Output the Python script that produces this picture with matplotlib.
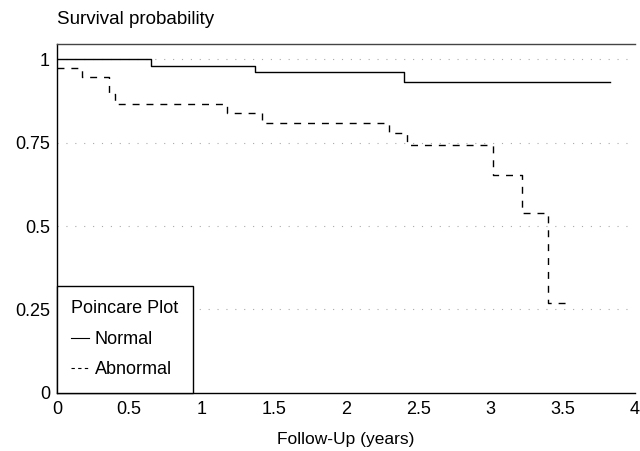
import matplotlib.pyplot as plt
from matplotlib.lines import Line2D

plt.rcParams['font.family'] = ['Liberation Sans', 'DejaVu Sans']

# Kaplan-Meier step data
normal_t = [0, 0.65, 1.37, 2.40, 3.83]
normal_s = [1.0, 0.979, 0.962, 0.931, 0.931]

abnormal_t = [0, 0.17, 0.36, 0.40, 1.18, 1.42, 2.30, 2.42, 3.02, 3.22, 3.40, 3.53]
abnormal_s = [0.973, 0.946, 0.895, 0.866, 0.838, 0.808, 0.778, 0.743, 0.653, 0.539, 0.269, 0.269]

x_ticks = [0, 0.5, 1, 1.5, 2, 2.5, 3, 3.5, 4]
x_labels = ['0', '0.5', '1', '1.5', '2', '2.5', '3', '3.5', '4']
y_ticks = [0, 0.25, 0.5, 0.75, 1]
y_labels = ['0', '0.25', '0.5', '0.75', '1']

fig = plt.figure(figsize=(6.4, 4.51), dpi=100)
ax = fig.add_axes([0.089, 0.129, 0.903, 0.773])

for y in y_ticks[1:]:
    ax.axhline(y, color='#aaaaaa', lw=0.8, linestyle=(0, (1, 7)), zorder=1)

ax.step(normal_t, normal_s, where='post', color='black', lw=1.0, zorder=3)
ax.step(abnormal_t, abnormal_s, where='post', color='black', lw=1.0,
        linestyle=(0, (5, 5)), zorder=3)

ax.set_xlim(0, 4)
ax.set_ylim(0, 1.045)
ax.set_xticks(x_ticks)
ax.set_xticklabels(x_labels)
ax.set_yticks(y_ticks)
ax.set_yticklabels(y_labels)
ax.tick_params(length=0, labelsize=13)
ax.tick_params(axis='x', pad=6)
ax.tick_params(axis='y', pad=5)
ax.spines['right'].set_visible(False)
for s in ['left', 'bottom', 'top']:
    ax.spines[s].set_linewidth(1.0)
ax.spines['top'].set_color('#444444')

ax.set_xlabel('Follow-Up (years)', fontsize=12.5, labelpad=10)
fig.text(0.089, 0.938, 'Survival probability', fontsize=13.5, ha='left', va='bottom')

handles = [Line2D([0], [0], color='black', lw=0.8),
           Line2D([0], [0], color='black', lw=0.8, linestyle=(0, (3, 3)))]
leg = ax.legend(handles, ['Normal', 'Abnormal'], title='Poincare Plot',
                loc='lower left', borderaxespad=0, fancybox=False,
                edgecolor='black', fontsize=13, title_fontsize=13,
                handlelength=1.0, handletextpad=0.3, labelspacing=0.75,
                borderpad=0.8, framealpha=1)
leg.get_frame().set_linewidth(1.0)
leg._legend_box.align = 'left'

fig.savefig('out.png', dpi=100)
